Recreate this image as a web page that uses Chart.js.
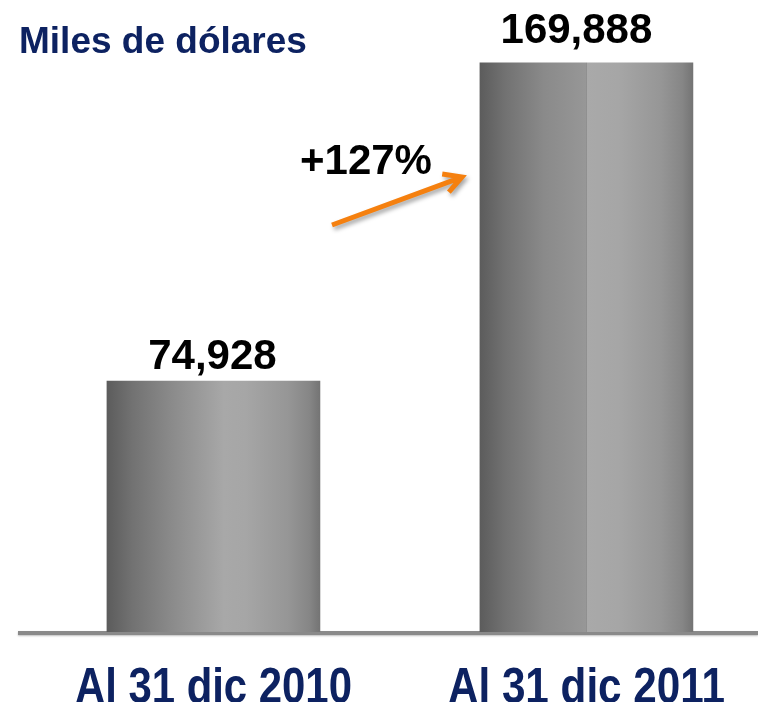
<!DOCTYPE html>
<html>
<head>
<meta charset="utf-8">
<script src="https://cdn.jsdelivr.net/npm/chart.js@4.4.1/dist/chart.umd.min.js"></script>
<style>
  html, body { margin: 0; padding: 0; background: #fff; overflow: hidden; }
  #wrap { width: 758px; height: 702px; }
</style>
</head>
<body>
<div id="wrap"><canvas id="chart" width="758" height="702"></canvas></div>
<script>
const categories = ["Al 31 dic 2010", "Al 31 dic 2011"];
const values = [74928, 169888];
const valueLabels = ["74,928", "169,888"];
const title = "Miles de dólares";
const growthLabel = "+127%";

const NAVY = "#0d2261";
const BAR_W = 213;

// horizontal shading of the cylinder-like bars
function barFill(context) {
  const chart = context.chart;
  const xs = chart.scales.x;
  if (!xs || context.dataIndex === undefined) return "#999";
  const cx = xs.getPixelForValue(context.dataIndex);
  if (!isFinite(cx)) return "#999";
  const g = chart.ctx.createLinearGradient(cx - BAR_W / 2, 0, cx + BAR_W / 2, 0);
  g.addColorStop(0, "#5c5c5c");
  g.addColorStop(0.12, "#727272");
  g.addColorStop(0.3, "#8a8a8a");
  if (context.dataIndex === 1) {
    g.addColorStop(0.499, "#979797");
    g.addColorStop(0.5, "#8e8e8e");
    g.addColorStop(0.505, "#a9a9a9");
  } else {
    g.addColorStop(0.55, "#a8a8a8");
  }
  g.addColorStop(0.65, "#a6a6a6");
  g.addColorStop(0.85, "#969696");
  g.addColorStop(0.95, "#868686");
  g.addColorStop(1, "#747474");
  return g;
}

const decor = {
  id: "decor",
  beforeDatasetsDraw(chart) {
    const ctx = chart.ctx;
    const area = chart.chartArea;
    const y0 = chart.scales.y.getPixelForValue(0);
    // baseline
    ctx.save();
    ctx.shadowColor = "rgba(0,0,0,0.25)";
    ctx.shadowBlur = 2;
    ctx.shadowOffsetY = 1;
    ctx.fillStyle = "#8a8a8a";
    ctx.fillRect(area.left, y0 - 1, area.right - area.left, 4);
    ctx.restore();
  },
  afterDatasetsDraw(chart) {
    const ctx = chart.ctx;
    const xs = chart.scales.x;
    const ys = chart.scales.y;
    ctx.save();

    // title
    ctx.fillStyle = NAVY;
    ctx.font = "bold 37px 'Liberation Sans', Arial, sans-serif";
    ctx.textAlign = "left";
    ctx.textBaseline = "alphabetic";
    ctx.fillText(title, 19, 53);

    // value labels above bars (second one sits a bit left, as in the slide)
    const nudgeX = [-1, -10];
    const gapY = [12, 20];
    ctx.fillStyle = "#000";
    ctx.font = "bold 42px 'Liberation Sans', Arial, sans-serif";
    ctx.textAlign = "center";
    values.forEach((v, i) => {
      const x = xs.getPixelForValue(i);
      const y = ys.getPixelForValue(v);
      ctx.fillText(valueLabels[i], x + nudgeX[i], y - gapY[i]);
    });

    // category labels, narrow bold
    ctx.fillStyle = NAVY;
    ctx.font = "bold 50px 'Liberation Sans Narrow', 'Liberation Sans', Arial, sans-serif";
    categories.forEach((c, i) => {
      const x = xs.getPixelForValue(i);
      const w = ctx.measureText(c).width;
      const sx = Math.min(1, 277 / w);
      ctx.save();
      ctx.translate(x, 703);
      ctx.scale(sx, 1);
      ctx.fillText(c, 0, 0);
      ctx.restore();
    });

    // growth annotation
    ctx.fillStyle = "#000";
    ctx.font = "bold 42px 'Liberation Sans', Arial, sans-serif";
    ctx.textAlign = "left";
    ctx.fillText(growthLabel, 300, 174);

    // orange arrow
    const x1 = 332, y1 = 225, x2 = 462, y2 = 177;
    const ang = Math.atan2(y2 - y1, x2 - x1);
    ctx.shadowColor = "rgba(0,0,0,0.35)";
    ctx.shadowBlur = 4;
    ctx.shadowOffsetX = 2;
    ctx.shadowOffsetY = 3;
    ctx.strokeStyle = "#f5800f";
    ctx.lineWidth = 5;
    ctx.lineCap = "butt";
    ctx.lineJoin = "miter";
    ctx.beginPath();
    ctx.moveTo(x1, y1);
    ctx.lineTo(x2 - 3 * Math.cos(ang), y2 - 3 * Math.sin(ang));
    ctx.moveTo(x2 - 20 * Math.cos(ang - 0.5), y2 - 20 * Math.sin(ang - 0.5));
    ctx.lineTo(x2, y2);
    ctx.lineTo(x2 - 20 * Math.cos(ang + 0.5), y2 - 20 * Math.sin(ang + 0.5));
    ctx.stroke();

    ctx.restore();
  }
};

new Chart(document.getElementById("chart"), {
  type: "bar",
  data: {
    labels: categories,
    datasets: [{
      data: values.map((v, i) => ({ x: i, y: v })),
      backgroundColor: barFill,
      borderWidth: 0,
      barThickness: BAR_W
    }]
  },
  options: {
    responsive: false,
    animation: false,
    layout: { padding: { left: 18, right: 0, top: 29, bottom: 70 } },
    plugins: {
      legend: { display: false },
      tooltip: { enabled: false }
    },
    scales: {
      x: { type: "linear", display: false, min: -0.524, max: 1.46, offset: false },
      y: { display: false, min: 0, max: 180000 }
    }
  },
  plugins: [decor]
});
</script>
</body>
</html>
